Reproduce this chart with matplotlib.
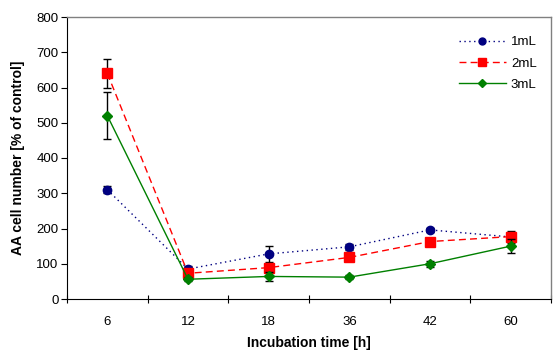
import matplotlib
matplotlib.use("Agg")
import matplotlib.pyplot as plt
from matplotlib.lines import Line2D
import numpy as np

categories = ["6", "12", "18", "36", "42", "60"]
s1 = [310, 85, 128, 148, 196, 176]
e1 = [10, 8, 22, 8, 6, 18]
s2 = [640, 73, 89, 118, 163, 177]
e2 = [42, 6, 8, 8, 8, 8]
s3 = [520, 56, 64, 62, 100, 150]
e3 = [66, 6, 12, 5, 8, 20]
labels = ["1mL", "2mL", "3mL"]

plt.rcParams['font.family'] = ['Liberation Sans', 'DejaVu Sans']

fig = plt.figure(figsize=(5.6, 3.56), dpi=100)
ax = fig.add_axes([67/560, 1-299/356, (551-67)/560, (299-17)/356])

x = np.arange(len(categories))
styles = [
    dict(color='#000080', ls=(0, (1, 2.5)), marker='o', ms=6),
    dict(color='#FF0000', ls=(0, (5, 3)), marker='s', ms=7),
    dict(color='#008000', ls='-', marker='D', ms=5),
]
handles = []
for i, (vals, errs) in enumerate([(s1, e1), (s2, e2), (s3, e3)]):
    st = styles[i]
    ax.errorbar(x, vals, yerr=errs, color=st['color'], ls=st['ls'], lw=1.0,
                marker=st['marker'], ms=st['ms'], mfc=st['color'], mec=st['color'],
                ecolor='black', elinewidth=1, capsize=3, zorder=3 + i)
    handles.append(Line2D([], [], color=st['color'], ls=st['ls'], lw=1.0,
                          marker=st['marker'], ms=st['ms'] - 1,
                          mfc=st['color'], mec=st['color'], label=labels[i]))

ax.set_xlim(-0.5, len(categories) - 0.5)
ax.set_ylim(0, 800)
ax.set_yticks(np.arange(0, 801, 100))
ax.set_xticks(x)
ax.set_xticklabels(categories)
ax.set_xticks(np.arange(-0.5, len(categories), 1), minor=True)
ax.tick_params(axis='x', which='major', length=0, pad=12, labelsize=9.5)
ax.tick_params(axis='x', which='minor', length=6, direction='inout', width=0.8)
ax.tick_params(axis='y', length=4, direction='out', width=0.8, labelsize=9.5, pad=2)

for s in ['top', 'right']:
    ax.spines[s].set_color('#808080')
    ax.spines[s].set_linewidth(1)
for s in ['left', 'bottom']:
    ax.spines[s].set_color('black')
    ax.spines[s].set_linewidth(0.8)

ax.set_xlabel("Incubation time [h]", fontweight='bold', fontsize=10, labelpad=6)
ax.set_ylabel("AA cell number [% of control]", fontweight='bold', fontsize=10, labelpad=8)

leg = ax.legend(handles=handles, loc='upper right', frameon=False, fontsize=9.5,
                handlelength=3.5, bbox_to_anchor=(0.995, 0.975), labelspacing=0.7,
                handletextpad=0.4)

fig.savefig("out.png", dpi=100)
